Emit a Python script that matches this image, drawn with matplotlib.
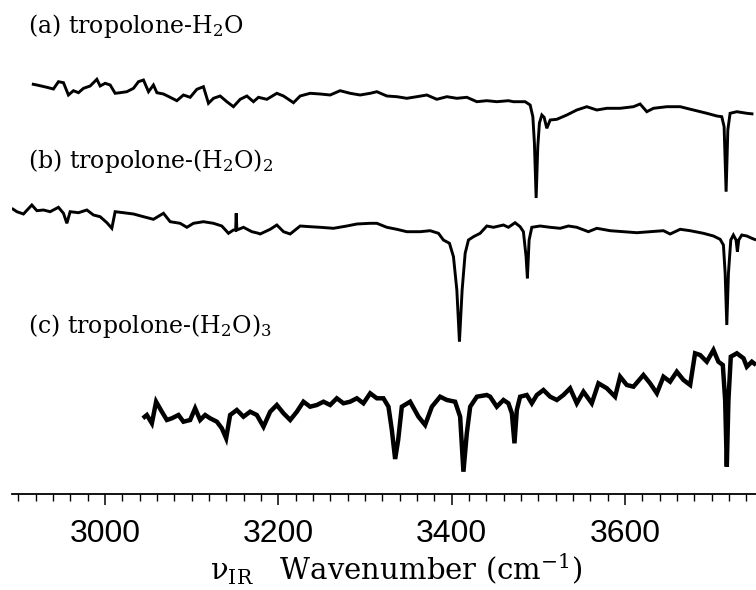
import matplotlib
matplotlib.use("Agg")
import matplotlib.pyplot as plt
from matplotlib.ticker import MultipleLocator

# IR-dip spectra of tropolone-(H2O)n clusters (relative ion signal, arbitrary units)
wn_a = [2915.4, 2921.2, 2932.7, 2940.3, 2946.1, 2951.9, 2957.6, 2963.4, 2969.2, 2975.0,
        2982.7, 2990.4, 2994.2, 3000.0, 3005.8, 3011.5, 3017.3, 3025.0, 3032.7, 3038.4,
        3044.2, 3050.0, 3055.7, 3059.7, 3067.3, 3075.0, 3082.7, 3090.3, 3098.1, 3105.8,
        3113.4, 3119.2, 3125.0, 3132.7, 3140.4, 3148.0, 3155.8, 3163.5, 3171.1, 3176.9,
        3186.6, 3198.1, 3205.8, 3217.3, 3225.0, 3236.5, 3248.1, 3259.6, 3271.1, 3282.7,
        3294.2, 3305.8, 3313.5, 3325.0, 3336.6, 3348.1, 3359.6, 3371.2, 3382.7, 3394.3,
        3405.8, 3417.3, 3428.9, 3440.4, 3451.9, 3465.3, 3471.1, 3484.6, 3490.4, 3493.5,
        3495.3, 3497.3, 3499.2, 3501.1, 3503.9, 3506.5, 3509.6, 3513.5, 3521.2, 3532.7,
        3544.2, 3555.8, 3567.3, 3578.9, 3594.2, 3609.6, 3617.3, 3625.0, 3632.6, 3648.1,
        3663.5, 3678.8, 3694.3, 3705.8, 3711.5, 3714.2, 3716.5, 3718.5, 3721.1, 3728.9,
        3740.4, 3748.0]
sig_a = [1.0, 0.0, -2.3, -4.0, 3.3, 2.3, -10.0, -5.7, -7.7, -3.3,
         -1.0, 5.7, -1.0, 1.7, 0.0, -8.3, -7.7, -6.7, -3.3, 3.3,
         5.0, -6.7, 0.0, -7.7, -9.0, -12.3, -15.7, -10.0, -12.3, -4.3,
         -1.7, -18.3, -13.3, -11.0, -16.7, -21.7, -14.3, -11.0, -16.7, -12.3,
         -14.3, -8.3, -11.0, -17.7, -11.0, -8.3, -9.0, -10.0, -5.7, -8.3,
         -10.0, -8.3, -6.7, -11.0, -11.7, -13.3, -11.7, -10.0, -14.3, -11.7,
         -13.3, -12.3, -16.7, -15.7, -16.7, -15.7, -16.7, -16.7, -20.0, -31.7,
         -58.0, -113.0, -61.7, -38.0, -30.0, -32.3, -43.3, -35.0, -34.3, -30.0,
         -25.0, -21.7, -25.0, -23.3, -23.3, -21.7, -19.0, -26.7, -23.3, -21.7,
         -21.7, -25.0, -28.3, -31.0, -31.7, -41.7, -106.7, -45.0, -28.3, -26.7,
         -28.3, -29.0]

wn_b = [2892.3, 2898.1, 2905.7, 2915.4, 2921.2, 2928.8, 2936.5, 2946.1, 2951.9, 2955.8,
        2959.6, 2969.2, 2978.9, 2986.5, 2994.2, 3002.0, 3007.7, 3011.5, 3021.1, 3032.7,
        3044.2, 3055.7, 3067.3, 3075.0, 3086.5, 3094.3, 3101.9, 3113.4, 3125.0, 3134.6,
        3142.3, 3148.0, 3150.6, 3151.2, 3152.0, 3159.6, 3169.3, 3176.9, 3178.8, 3190.4,
        3198.1, 3205.8, 3213.5, 3225.0, 3236.5, 3248.1, 3263.4, 3278.9, 3290.4, 3305.8,
        3313.5, 3325.0, 3336.6, 3348.1, 3363.5, 3375.0, 3384.6, 3390.3, 3397.3, 3401.9,
        3405.8, 3408.8, 3411.9, 3415.4, 3419.2, 3425.0, 3432.7, 3440.4, 3448.0, 3459.6,
        3465.3, 3473.0, 3478.8, 3482.6, 3485.7, 3487.2, 3489.2, 3492.3, 3501.9, 3513.5,
        3525.0, 3534.6, 3544.2, 3557.6, 3567.3, 3582.7, 3598.1, 3613.5, 3628.8, 3644.2,
        3651.9, 3663.5, 3675.0, 3690.3, 3701.9, 3709.6, 3713.4, 3715.4, 3717.3, 3719.2,
        3721.9, 3724.9, 3728.0, 3729.5, 3731.1, 3734.6, 3740.4, 3746.2, 3751.1]
sig_b = [1.7, -1.7, -4.0, 5.0, -0.7, 0.0, -1.7, 2.7, -3.3, -13.3,
         -1.7, -2.7, 0.0, -5.0, -6.7, -12.7, -18.3, -1.7, -2.7, -4.0,
         -6.7, -9.3, -3.3, -11.7, -13.3, -17.3, -13.3, -11.7, -13.3, -16.0,
         -23.3, -20.0, -20.0, -3.3, -20.0, -17.3, -21.7, -23.3, -24.0, -19.3,
         -15.0, -21.7, -24.0, -16.0, -16.7, -17.3, -18.3, -16.0, -14.0, -13.3,
         -13.3, -17.3, -19.3, -21.7, -21.7, -20.7, -23.3, -30.0, -33.3, -46.7,
         -80.0, -131.7, -80.0, -43.3, -30.0, -26.7, -23.3, -16.0, -17.3, -15.0,
         -17.3, -12.7, -16.7, -21.7, -46.7, -68.3, -30.0, -17.3, -16.0, -17.3,
         -18.3, -16.0, -17.3, -21.7, -18.3, -20.7, -21.7, -22.7, -21.7, -20.7,
         -24.0, -19.3, -20.7, -23.3, -26.0, -29.3, -35.0, -63.3, -115.0, -63.3,
         -30.0, -25.0, -30.0, -41.7, -30.0, -25.0, -26.0, -28.3, -30.0]

wn_c = [3043.5, 3048.1, 3053.9, 3058.8, 3065.4, 3071.2, 3076.9, 3084.6, 3090.3, 3098.1,
        3103.8, 3109.6, 3115.4, 3121.1, 3128.9, 3134.6, 3139.6, 3144.2, 3151.9, 3159.6,
        3167.3, 3175.0, 3182.7, 3190.4, 3198.1, 3205.8, 3213.5, 3221.2, 3228.8, 3236.5,
        3244.3, 3251.9, 3259.6, 3267.3, 3275.0, 3282.7, 3290.4, 3298.0, 3305.8, 3313.5,
        3321.1, 3326.9, 3330.8, 3334.6, 3338.1, 3342.3, 3351.9, 3361.5, 3369.2, 3377.0,
        3386.5, 3394.3, 3403.8, 3409.6, 3413.4, 3417.3, 3421.2, 3428.9, 3440.4, 3444.2,
        3451.9, 3459.6, 3465.3, 3469.3, 3472.3, 3475.0, 3478.8, 3486.5, 3492.3, 3498.1,
        3505.7, 3513.5, 3521.2, 3528.8, 3536.5, 3544.2, 3551.9, 3561.5, 3569.2, 3578.9,
        3588.4, 3594.2, 3601.9, 3609.6, 3621.1, 3628.8, 3636.6, 3644.2, 3651.9, 3659.6,
        3667.3, 3675.0, 3680.7, 3686.5, 3694.2, 3701.9, 3707.6, 3712.7, 3715.4, 3717.3,
        3719.2, 3721.9, 3728.9, 3736.6, 3740.4, 3746.2, 3751.1]
sig_c = [-0.3, 3.0, -5.3, 16.3, 6.3, -2.0, -0.3, 3.0, -3.7, -2.0,
         9.7, -2.0, 3.0, -0.3, -3.7, -10.3, -20.3, 3.0, 8.0, 1.3,
         6.3, 3.0, -8.7, 6.3, 13.0, 4.7, -2.0, 6.3, 16.3, 11.3,
         13.0, 16.3, 13.0, 19.7, 14.7, 16.3, 19.7, 14.7, 24.7, 19.7,
         19.7, 11.3, -12.0, -41.0, -22.0, 11.3, 16.3, 1.3, -7.0, 11.3,
         21.3, 18.0, 16.3, 1.3, -53.7, -15.3, 11.3, 21.3, 23.0, 21.3,
         11.3, 18.0, 14.7, 4.7, -25.3, 8.0, 21.3, 23.0, 14.7, 23.0,
         28.0, 21.3, 18.0, 23.0, 29.7, 14.7, 26.3, 14.7, 34.7, 29.7,
         21.3, 41.3, 33.0, 31.3, 43.0, 34.7, 24.7, 41.3, 36.3, 46.3,
         38.0, 33.0, 64.7, 63.0, 56.3, 68.0, 56.3, 53.0, 18.0, -48.7,
         18.0, 61.3, 64.7, 59.7, 51.3, 56.3, 53.0]

labels = ["(a) tropolone-H$_2$O",
          "(b) tropolone-(H$_2$O)$_2$",
          "(c) tropolone-(H$_2$O)$_3$"]
major_ticks = [3000, 3200, 3400, 3600]
xlabel = "ν$_{\\mathrm{IR}}$   Wavenumber (cm$^{\\mathrm{-1}}$)"

# vertical stacking of the three traces (same units as the signal)
offsets = [-85, -210, -418]
AX_H = 494  # axes height in pixels

W, H = 756, 590
plt.rcParams["mathtext.fontset"] = "dejavuserif"
fig = plt.figure(figsize=(W / 100, H / 100), dpi=100)
ax = fig.add_axes([12 / W, 1 - AX_H / H, 744 / W, AX_H / H])

traces = [(wn_a, sig_a, 2.1), (wn_b, sig_b, 2.1), (wn_c, sig_c, 3.2)]
for (x, y, lw), off in zip(traces, offsets):
    ax.plot(x, [v + off for v in y], color="black", lw=lw,
            solid_joinstyle="miter", solid_capstyle="butt")

ax.set_xlim(2892.5, 3751.0)
ax.set_ylim(-AX_H, 0)

for s in ("left", "right", "top"):
    ax.spines[s].set_visible(False)
ax.spines["bottom"].set_linewidth(1.3)
ax.set_yticks([])
ax.set_xticks(major_ticks)
ax.xaxis.set_minor_locator(MultipleLocator(20))
ax.tick_params(axis="x", which="major", direction="out", length=8, width=1.1, pad=10)
ax.tick_params(axis="x", which="minor", direction="out", length=5, width=1.0)
for t in ax.get_xticklabels():
    t.set_fontfamily(["Liberation Sans Narrow", "Liberation Sans"])
    t.set_fontsize(23)

label_base = [33, 168, 333]
for txt, yb in zip(labels, label_base):
    fig.text(28 / W, 1 - yb / H, txt, fontsize=17, family="DejaVu Serif",
             ha="left", va="baseline")

fig.text(396 / W, 1 - 580 / H, xlabel, fontsize=21, family="DejaVu Serif",
         ha="center", va="baseline")

fig.savefig("out.png", dpi=100)
